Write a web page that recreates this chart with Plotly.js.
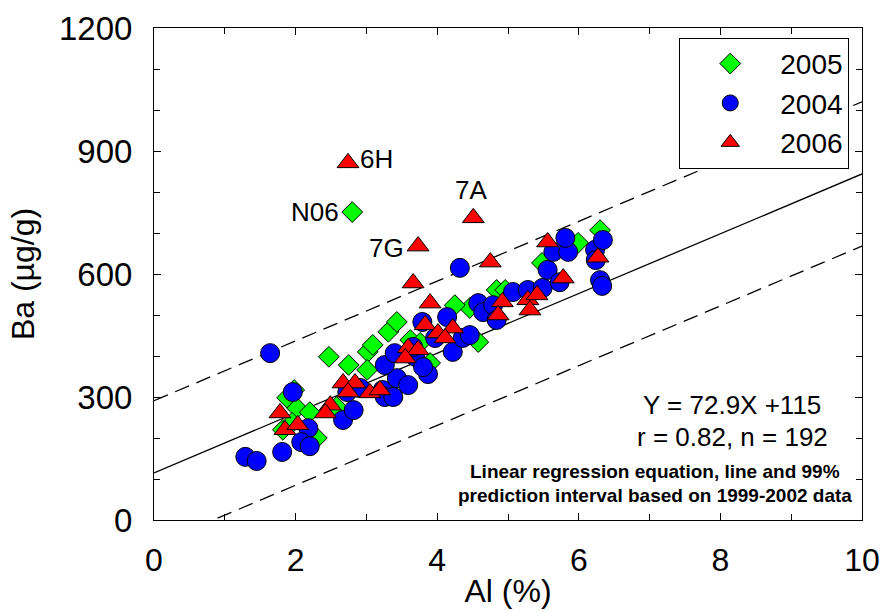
<!DOCTYPE html>
<html>
<head>
<meta charset="utf-8">
<script src="https://cdn.plot.ly/plotly-3.0.1.min.js"></script>
<style>html,body{margin:0;padding:0;background:#fff;}#chart{width:885px;height:611px;}</style>
</head>
<body>
<div id="chart"></div>
<script>
// ---- Data ----
const x2005 = [2.80,1.98,1.88,2.02,2.20,1.82,1.95,2.30,2.47,2.75,2.58,3.02,3.01,3.09,3.31,3.43,3.62,3.76,3.90,4.46,4.58,4.84,4.96,5.48,5.99,6.30,4.25];
const y2005 = [751,317,298,273,263,220,237,200,398,378,276,410,366,427,459,483,439,432,383,517,434,561,561,627,676,707,524];

const x2004 = [1.64,1.29,1.45,1.81,1.96,2.18,2.08,2.20,2.67,2.82,2.73,3.23,3.26,3.38,3.43,3.59,3.26,3.40,3.69,3.66,3.87,3.79,4.14,4.22,4.36,4.46,4.32,4.58,4.65,4.79,4.84,5.07,5.28,5.49,5.56,5.73,5.64,5.85,5.81,6.23,6.24,6.34,6.30,6.33,3.97,3.80,2.91];
const y2004 = [407,154,144,166,312,224,190,180,244,268,312,317,300,300,346,329,378,407,398,422,356,483,495,410,444,451,615,529,507,524,488,556,561,566,610,580,654,654,688,659,634,683,585,571,444,373,322];

const x2006 = [2.74,4.51,3.73,3.66,4.75,3.90,3.83,4.01,4.22,4.11,3.59,3.73,3.55,2.67,2.84,2.74,3.05,3.19,2.49,2.42,1.78,1.85,2.03,4.92,4.86,5.28,5.41,5.31,5.56,5.78,6.27];
const y2006 = [871,737,668,578,629,529,476,456,468,444,420,415,395,334,334,312,310,317,280,261,261,220,232,532,500,537,549,512,678,590,641];

// labelled outliers: [series, index, text]
const outlierLabels = [["2006",0,"6H"],["2005",0,"N06"],["2006",1,"7A"],["2006",2,"7G"]];

// regression based on 1999-2002 data
const regSlope = 72.9, regIntercept = 115, piHalfWidth = 176;
const xLine = [0, 10];

const series = {"2005":[x2005,y2005],"2004":[x2004,y2004],"2006":[x2006,y2006]};

const FONT = '"Liberation Sans", Arial, sans-serif';

const lineTrace = (off, dash) => ({
  x: xLine, y: xLine.map(v => regIntercept + regSlope*v + off),
  mode: 'lines', line: {color: '#000', width: 1.3, dash: dash},
  showlegend: false, hoverinfo: 'skip'
});

const traces = [
  lineTrace(0, 'solid'),
  lineTrace(piHalfWidth, '15px,8px'),
  lineTrace(-piHalfWidth, '15px,8px'),
  {x: x2005, y: y2005, name: '2005', mode: 'markers', type: 'scatter',
   marker: {symbol: 'diamond', size: 16, color: '#00FF00', line: {color: '#000', width: 1}}},
  {x: x2004, y: y2004, name: '2004', mode: 'markers', type: 'scatter',
   marker: {symbol: 'circle', size: 19, color: '#0000FF', line: {color: '#000', width: 1}}},
  {x: x2006, y: y2006, name: '2006', mode: 'markers', type: 'scatter',
   marker: {symbol: 'triangle-up', size: 19, color: '#FF0000', line: {color: '#000', width: 1}}}
];

const labelPlacement = {"6H":{xanchor:'left',xshift:10,yshift:4},"N06":{xanchor:'right',xshift:-11,yshift:0},"7A":{xanchor:'center',xshift:-2,yshift:28},"7G":{xanchor:'right',xshift:-12,yshift:-2}};

const annotations = outlierLabels.map(([s,i,t]) => Object.assign({
  x: series[s][0][i], y: series[s][1][i], xref:'x', yref:'y', text: t, showarrow: false,
  yanchor: 'middle', font: {size: 26, color: '#000', family: FONT}
}, labelPlacement[t]));

annotations.push(
  {xref:'paper', yref:'paper', x:0.817, y:0.234, text:'Y = 72.9X +115', showarrow:false, xanchor:'center', yanchor:'middle', font:{size:26,color:'#000',family:FONT}},
  {xref:'paper', yref:'paper', x:0.817, y:0.169, text:'r = 0.82, n = 192', showarrow:false, xanchor:'center', yanchor:'middle', font:{size:26,color:'#000',family:FONT}},
  {xref:'paper', yref:'paper', x:0.707, y:0.098, text:'<b>Linear regression equation, line and 99%</b>', showarrow:false, xanchor:'center', yanchor:'middle', font:{size:19,color:'#000',family:FONT}},
  {xref:'paper', yref:'paper', x:0.707, y:0.049, text:'<b>prediction interval based on 1999-2002 data</b>', showarrow:false, xanchor:'center', yanchor:'middle', font:{size:19,color:'#000',family:FONT}}
);

const layout = {
  width: 885, height: 611,
  margin: {l: 154, r: 23, t: 28, b: 91},
  paper_bgcolor: '#fff', plot_bgcolor: '#fff',
  font: {family: FONT, color: '#000'},
  showlegend: true,
  legend: {x: 0.982, xanchor: 'right', y: 0.98, yanchor: 'top', bgcolor: '#fff',
           bordercolor: '#000', borderwidth: 1, font: {size: 28, family: FONT}, itemwidth: 90,
           tracegroupgap: 0},
  xaxis: {range: [0, 10], dtick: 2, tick0: 0, ticks: 'inside', ticklen: 7, tickcolor: '#000',
          showline: true, linecolor: '#000', linewidth: 1, mirror: 'allticks', showgrid: false, zeroline: false,
          tickfont: {size: 32}, ticklabelstandoff: 12,
          minor: {dtick: 1, ticks: 'inside', ticklen: 6, tickcolor: '#000', showgrid: false},
          title: {text: 'Al (%)', font: {size: 32}, standoff: 2}},
  yaxis: {range: [0, 1200], dtick: 300, tick0: 0, ticks: 'inside', ticklen: 7, tickcolor: '#000',
          showline: true, linecolor: '#000', linewidth: 1, mirror: 'allticks', showgrid: false, zeroline: false,
          tickfont: {size: 33}, ticklabelstandoff: 14,
          minor: {dtick: 100, ticks: 'inside', ticklen: 6, tickcolor: '#000', showgrid: false},
          title: {text: 'Ba (µg/g)', font: {size: 32}, standoff: 14}},
  annotations: annotations
};

Plotly.newPlot('chart', traces, layout, {displayModeBar: false, staticPlot: true});
</script>
</body>
</html>
